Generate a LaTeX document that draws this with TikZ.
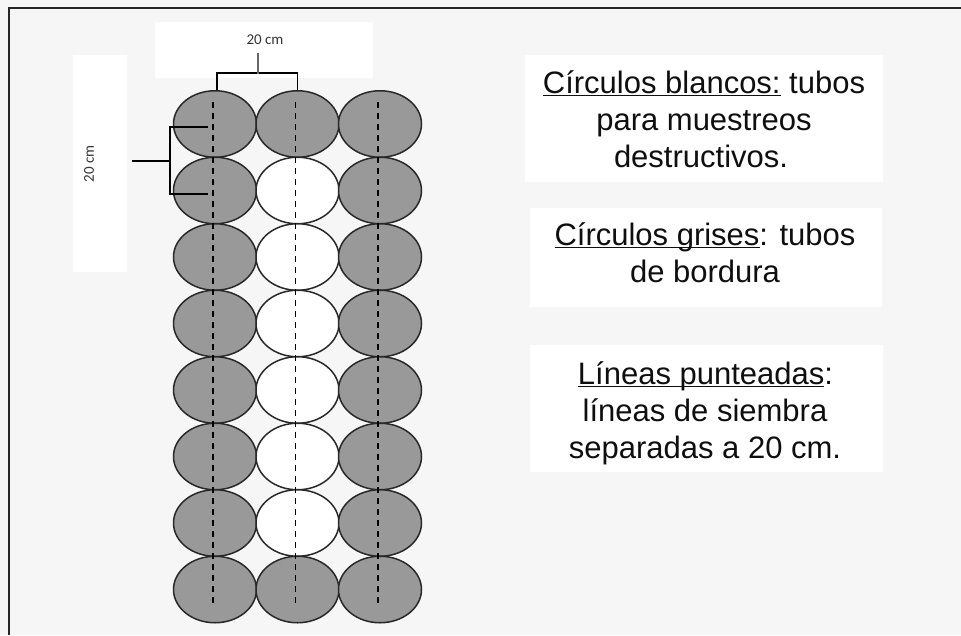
\documentclass[tikz,border=0pt]{standalone}
\usepackage{fontspec}
\setmainfont{Liberation Sans}
\newfontfamily\calib{Carlito}
\usetikzlibrary{shapes.geometric}
\definecolor{bgc}{RGB}{246,246,246}
\definecolor{tubeg}{RGB}{153,153,153}
\definecolor{edgec}{RGB}{40,40,40}
\definecolor{txt}{RGB}{15,15,15}
\newcommand\myul[1]{\setbox0\hbox{#1}\rlap{\rule[-2.8pt]{\wd0}{1.6pt}}\box0\relax}
\begin{document}
\begin{tikzpicture}[x=1pt,y=-1pt,
  tube/.style={ellipse, draw=edgec, line width=1.5pt, minimum width=83pt, minimum height=66.5pt, inner sep=0pt},
  gtube/.style={tube, fill=tubeg},
  wtube/.style={tube, fill=white},
  dashline/.style={line width=1.5pt, black, dash pattern=on 6pt off 5pt},
  br/.style={line width=1.6pt, black},
  stemline/.style={line width=1.8pt, black!60},
  whitebox/.style={fill=white, draw=none},
  legend/.style={anchor=base, text=txt, inner sep=0pt, font=\fontsize{31}{37}\selectfont},
  dim/.style={text=black!80, inner sep=0pt, font=\calib\fontsize{15}{18}\selectfont}]
\useasboundingbox (0,0) rectangle (961,635);
\fill[bgc] (0,0) rectangle (961,635);
% white label boxes
\fill[whitebox] (155,22) rectangle (373,78);
\fill[whitebox] (73,55) rectangle (127,272);
\fill[whitebox] (525,55) rectangle (883,182);
\fill[whitebox] (530,208) rectangle (882,307);
\fill[whitebox] (530,345) rectangle (883,472);
% frame
\draw[line width=2pt, black!85] (9,635) -- (9,8) -- (961,8);
% tubes
\foreach \r in {1,...,8}{
  \foreach \c in {1,2,3}{
    \def\st{gtube}
    \ifnum\c=2 \ifnum\r>1 \ifnum\r<8 \def\st{wtube}\fi\fi\fi
    \node[\st] (e\r\c) at ({215+82.5*(\c-1)},{124+66.5*(\r-1)}) {};
  }
}
% sowing lines
\foreach \c in {1,2,3}{
  \draw[dashline] ([xshift=-2pt,yshift=-12pt]e1\c.north) -- ([xshift=-2pt,yshift=16pt]e8\c.south);
}
% dimension labels
\node[dim] (ltop) at (265,40) {20 cm};
\node[dim, rotate=90] (lleft) at (89,164) {20 cm};
% top bracket
\draw[br] ([xshift=2pt]e11.north) -- ++(0,-17) -| (e12.north);
\coordinate (tmid) at (258,74);
\coordinate (tstem) at (258,53);
\draw[stemline] (tmid) -- (tstem);
% left bracket
\coordinate (lb) at (170,161);
\coordinate (lstem) at (132,161);
\draw[br] ([xshift=-7pt,yshift=-3pt]e11.center) -| (lb) |- ([xshift=-7pt,yshift=-3.5pt]e21.center);
\draw[br] (lstem) -- (lb);
% legends
\node[legend] (a1) at (704,93.5) {\myul{Círculos blancos:} tubos};
\node[legend] (a2) at (704,130.5) {para muestreos};
\node[legend] (a3) at (701,167.5) {destructivos.};
\node[legend] (b1) at (705,245.5) {\myul{Círculos grises}: tubos};
\node[legend] (b2) at (705,282) {de bordura};
\node[legend] (c1) at (705.5,384.5) {\myul{Líneas punteadas}:};
\node[legend] (c2) at (705,421) {líneas de siembra};
\node[legend] (c3) at (705,458.5) {separadas a 20 cm.};
\end{tikzpicture}
\end{document}
